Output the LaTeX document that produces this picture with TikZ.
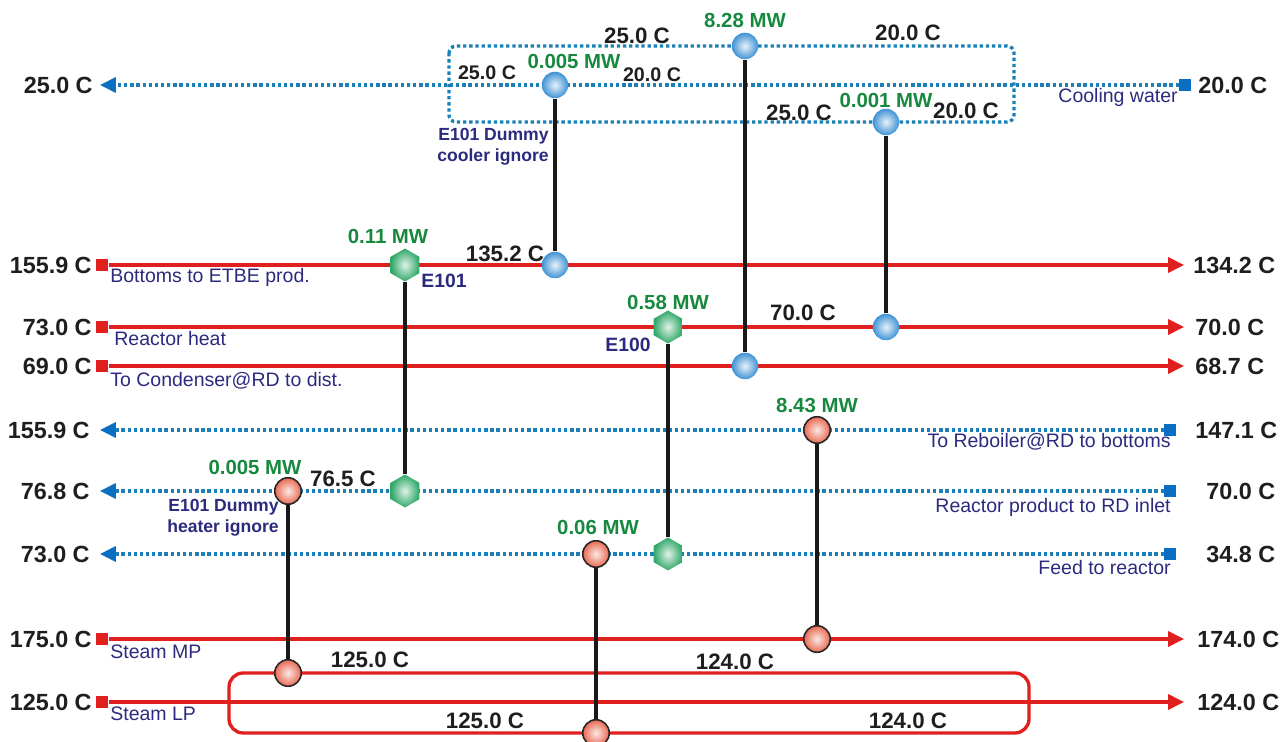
\documentclass[tikz,border=0pt]{standalone}
\usepackage{fontspec}
\setmainfont{Liberation Sans}
\usetikzlibrary{arrows.meta,positioning,shapes.geometric}
\definecolor{gridRed}{HTML}{E0201E}
\definecolor{gridBlue}{HTML}{1C80B8}
\definecolor{gridSq}{HTML}{0A6FC2}
\definecolor{gridGreen}{HTML}{17893F}
\definecolor{gridNavy}{HTML}{2C2A7E}
\definecolor{gridInk}{HTML}{1E1E1E}
\definecolor{gridBall}{HTML}{3F93D4}
\definecolor{gridSalmon}{HTML}{E86A52}
\definecolor{gridHex}{HTML}{30A868}
\tikzset{
  hotline/.style={draw=gridRed,line width=1.9pt,-{Triangle[length=9pt,width=8.5pt]}},
  hotloop/.style={draw=gridRed,line width=1.9pt,rounded corners=8pt},
  coldline/.style={draw=gridBlue,line width=1.9pt,dash pattern=on 1.9pt off 1.6pt,
    -{Triangle[length=9pt,width=8.5pt,color=gridSq]}},
  coldloop/.style={draw=gridBlue,line width=1.9pt,dash pattern=on 1.9pt off 1.6pt,rounded corners=4pt},
  hotsq/.style={rectangle,fill=gridRed,minimum size=7pt,inner sep=0pt},
  coldsq/.style={rectangle,fill=gridSq,minimum size=6.5pt,inner sep=0pt},
  cooler/.style={circle,minimum size=0.53cm,inner sep=0pt,shading=radial,
    inner color=gridBall!12!white,outer color=gridBall},
  heater/.style={circle,minimum size=0.53cm,inner sep=0pt,draw=black!85,line width=0.9pt,
    shading=radial,inner color=gridSalmon!15!white,outer color=gridSalmon},
  hexex/.style={regular polygon,regular polygon sides=6,shape border rotate=30,
    minimum size=0.66cm,inner sep=0pt,shading=radial,inner color=gridHex!15!white,outer color=gridHex},
  link/.style={draw=black!90,line width=2pt},
  endlbl/.style={text=gridInk,inner sep=0pt,font=\fontsize{13.3}{15}\selectfont\bfseries},
  templbl/.style={text=gridInk,inner sep=0pt,font=\fontsize{12.7}{14}\selectfont\bfseries},
  tempsmall/.style={text=gridInk,inner sep=0pt,font=\fontsize{11.2}{13}\selectfont\bfseries},
  duty/.style={text=gridGreen,inner sep=0pt,font=\fontsize{11.6}{13}\selectfont\bfseries},
  streamlbl/.style={text=gridNavy,inner sep=0pt,font=\fontsize{11.1}{13}\selectfont},
  exlbl/.style={text=gridNavy,inner sep=0pt,align=right,font=\fontsize{10}{12}\selectfont\bfseries}
}

\begin{document}
\begin{tikzpicture}[x=0.02cm,y=-0.02cm]
  \useasboundingbox (0,0) rectangle (1281,742);
  % cooling water and its loop
  \node[coldsq] (cws) at (1185,85) {};
  \coordinate (cwe) at (100,85);
  \draw[coldline] (cws) -- (cwe);
  \draw[coldloop] (449,46) rectangle (1014,122);
  % hot streams
  \node[hotsq] (h1s) at (102,265) {};
  \coordinate (h1e) at (1184,265);
  \draw[hotline] (h1s) -- (h1e);
  \node[hotsq] (h2s) at (102,327) {};
  \coordinate (h2e) at (1184,327);
  \draw[hotline] (h2s) -- (h2e);
  \node[hotsq] (h3s) at (102,366) {};
  \coordinate (h3e) at (1184,366);
  \draw[hotline] (h3s) -- (h3e);
  % cold streams
  \node[coldsq] (c1s) at (1170,430) {};
  \coordinate (c1e) at (100,430);
  \draw[coldline] (c1s) -- (c1e);
  \node[coldsq] (c2s) at (1170,491) {};
  \coordinate (c2e) at (100,491);
  \draw[coldline] (c2s) -- (c2e);
  \node[coldsq] (c3s) at (1170,554) {};
  \coordinate (c3e) at (100,554);
  \draw[coldline] (c3s) -- (c3e);
  % steam
  \node[hotsq] (mps) at (102,639) {};
  \coordinate (mpe) at (1184,639);
  \draw[hotline] (mps) -- (mpe);
  \node[hotsq] (lps) at (102,702) {};
  \coordinate (lpe) at (1184,702);
  \draw[hotline] (lps) -- (lpe);
  \draw[hotloop] (229,673) rectangle (1029,733);

  % exchangers
  \node[cooler] (k1a) at (555,85) {};
  \node[cooler] (k1b) at (555,265) {};
  \node[cooler] (k2a) at (745,46) {};
  \node[cooler] (k2b) at (745,366) {};
  \node[cooler] (k3a) at (886,122) {};
  \node[cooler] (k3b) at (886,327) {};
  \node[hexex] (e101a) at (405,265) {};
  \node[hexex] (e101b) at (405,491) {};
  \node[hexex] (e100a) at (668,327) {};
  \node[hexex] (e100b) at (668,554) {};
  \node[heater] (r1a) at (288,491) {};
  \node[heater] (r1b) at (288,673) {};
  \node[heater] (r2a) at (596,554) {};
  \node[heater] (r2b) at (596,733) {};
  \node[heater] (r3a) at (817,430) {};
  \node[heater] (r3b) at (817,639) {};
  \draw[link] (k1a) -- (k1b);
  \draw[link] (k2a) -- (k2b);
  \draw[link] (k3a) -- (k3b);
  \draw[link] (e101a) -- (e101b);
  \draw[link] (e100a) -- (e100b);
  \draw[link] (r1a) -- (r1b);
  \draw[link] (r2a) -- (r2b);
  \draw[link] (r3a) -- (r3b);

  % stream end temperatures
  \node[endlbl,anchor=east] (cwt1) at (93,85) {25.0 C};
  \node[endlbl,anchor=west] (cwt2) at (1198,85) {20.0 C};
  \node[endlbl,anchor=east] (h1t1) at (92,265) {155.9 C};
  \node[endlbl,anchor=west] (h1t2) at (1193,265) {134.2 C};
  \node[endlbl,anchor=east] (h2t1) at (92,327) {73.0 C};
  \node[endlbl,anchor=west] (h2t2) at (1195,327) {70.0 C};
  \node[endlbl,anchor=east] (h3t1) at (92,366) {69.0 C};
  \node[endlbl,anchor=west] (h3t2) at (1195,366) {68.7 C};
  \node[endlbl,anchor=east] (c1t1) at (90,430) {155.9 C};
  \node[endlbl,anchor=west] (c1t2) at (1195,430) {147.1 C};
  \node[endlbl,anchor=east] (c2t1) at (90,491) {76.8 C};
  \node[endlbl,anchor=west] (c2t2) at (1206,491) {70.0 C};
  \node[endlbl,anchor=east] (c3t1) at (90,554) {73.0 C};
  \node[endlbl,anchor=west] (c3t2) at (1206,554) {34.8 C};
  \node[endlbl,anchor=east] (mpt1) at (92,639) {175.0 C};
  \node[endlbl,anchor=west] (mpt2) at (1197,639) {174.0 C};
  \node[endlbl,anchor=east] (lpt1) at (92,702) {125.0 C};
  \node[endlbl,anchor=west] (lpt2) at (1197,702) {124.0 C};

  % stream names
  \node[streamlbl,anchor=base east] (cwn) at (1178,103) {Cooling water};
  \node[streamlbl,anchor=base west] (h1n) at (110,283) {Bottoms to ETBE prod.};
  \node[streamlbl,anchor=base west] (h2n) at (114,346) {Reactor heat};
  \node[streamlbl,anchor=base west] (h3n) at (110,387) {To Condenser@RD to dist.};
  \node[streamlbl,anchor=base east] (c1n) at (1171,448) {To Reboiler@RD to bottoms};
  \node[streamlbl,anchor=base east] (c2n) at (1171,513) {Reactor product to RD inlet};
  \node[streamlbl,anchor=base east] (c3n) at (1171,575) {Feed to reactor};
  \node[streamlbl,anchor=base west] (mpn) at (110,659) {Steam MP};
  \node[streamlbl,anchor=base west] (lpn) at (110,720) {Steam LP};

  % duties and intermediate temperatures
  \node[templbl] (k2t1) at (637,36) {25.0 C};
  \node[duty] (k2d) at (745,20) {8.28 MW};
  \node[templbl] (k2t2) at (908,33) {20.0 C};
  \node[tempsmall] (k1t1) at (487,73) {25.0 C};
  \node[duty] (k1d) at (574,61) {0.005 MW};
  \node[tempsmall] (k1t2) at (652,75) {20.0 C};
  \node[templbl] (k3t1) at (799,113) {25.0 C};
  \node[duty] (k3d) at (886,100) {0.001 MW};
  \node[templbl] (k3t2) at (966,111) {20.0 C};
  \node[exlbl,anchor=east] (k1n) at (549,147) {E101 Dummy\\cooler ignore};
  \node[templbl] (k1t3) at (505,254) {135.2 C};
  \node[duty] (e101d) at (388,236) {0.11 MW};
  \node[exlbl,font=\fontsize{11}{13}\selectfont\bfseries] (e101n) at (444,281) {E101};
  \node[duty] (e100d) at (668,302) {0.58 MW};
  \node[exlbl,font=\fontsize{11}{13}\selectfont\bfseries] (e100n) at (628,345) {E100};
  \node[templbl] (k3t3) at (803,313) {70.0 C};
  \node[duty] (r3d) at (817,406) {8.43 MW};
  \node[duty] (r1d) at (255,467) {0.005 MW};
  \node[templbl] (e101t) at (343,479) {76.5 C};
  \node[exlbl,anchor=east] (r1n) at (279,518) {E101 Dummy\\heater ignore};
  \node[duty] (r2d) at (598,527) {0.06 MW};
  \node[templbl] (r1t1) at (370,660) {125.0 C};
  \node[templbl] (r1t2) at (735,662) {124.0 C};
  \node[templbl] (r2t1) at (485,721) {125.0 C};
  \node[templbl] (r2t2) at (908,721) {124.0 C};
\end{tikzpicture}
\end{document}
